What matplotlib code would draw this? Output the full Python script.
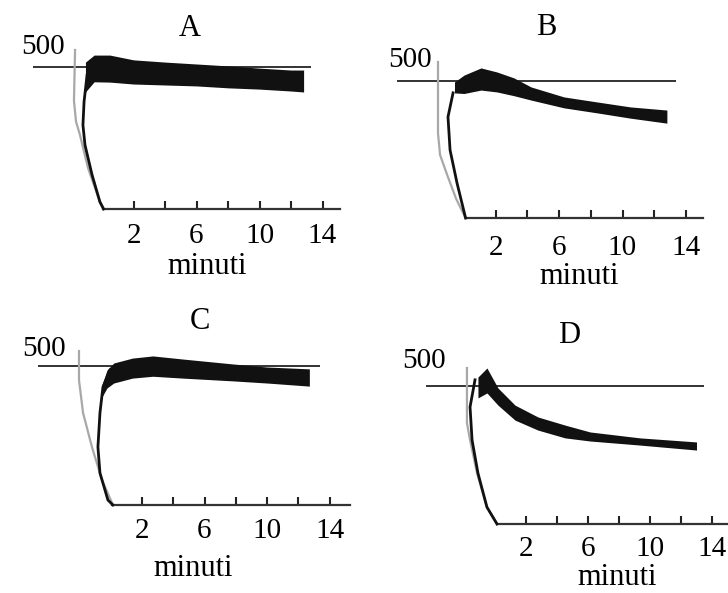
import matplotlib.pyplot as plt

plt.rcParams['font.family'] = ['Liberation Serif', 'DejaVu Serif']

# values: time in minutes, level in the figure's units
x_ticks = [2, 4, 6, 8, 10, 12, 14]
x_labels = ['2', '', '6', '', '10', '', '14']

# panel A
a_base = 447
a_base_span = [-4.4, 13.3]
a_drop_t = [-1.71, -1.78, -1.65, -1.40, -0.89, -0.40, -0.13, 0.10]
a_drop_v = [500, 340, 275, 233, 129, 60, 22, 0]
a_rise_t = [-0.95, -1.14, -1.21, -1.08, -0.63, -0.13, 0.10]
a_rise_v = [421, 337, 264, 201, 107, 22, 0]
a_band_t = [-1.05, -0.5, 0.5, 2, 4, 6, 8, 10, 12, 12.8]
a_band_hi = [462, 484, 484, 469, 462, 456, 450, 443, 437, 437]
a_band_lo = [368, 400, 399, 393, 390, 387, 381, 377, 371, 368]

# panel B
b_base = 439
b_base_span = [-4.23, 13.4]
b_drop_t = [-1.64, -1.64, -1.51, -1.01, -0.50, 0.10]
b_drop_v = [500, 272, 202, 131, 62, 0]
b_rise_t = [-0.69, -1.01, -0.88, -0.44, 0.10]
b_rise_v = [401, 324, 218, 112, 0]
b_band_t = [-0.6, 0, 1.07, 2.08, 3.15, 4.23, 6.31, 8.39, 10.5, 12.8]
b_band_hi = [436, 458, 481, 468, 449, 420, 388, 372, 356, 346]
b_band_lo = [401, 399, 410, 404, 392, 378, 353, 337, 320, 304]

# panel C
c_base = 451
c_base_span = [-4.64, 13.4]
c_drop_t = [-2.02, -2.02, -1.76, -1.19, -0.55, 0.15]
c_drop_v = [500, 406, 299, 188, 81, 0]
c_rise_t = [-0.04, -0.49, -0.68, -0.81, -0.68, -0.17, 0.15]
c_rise_v = [438, 383, 299, 188, 104, 16, 0]
c_band_t = [-0.55, -0.23, 0.2, 1.4, 2.7, 4.6, 7.8, 10.0, 12.7]
c_band_hi = [390, 438, 461, 477, 484, 474, 458, 448, 442]
c_band_lo = [351, 380, 396, 412, 418, 412, 403, 396, 386]

# panel D
d_base = 442
d_base_span = [-4.45, 13.5]
d_drop_t = [-1.81, -1.81, -1.61, -1.16, -0.52, 0.13]
d_drop_v = [500, 324, 269, 163, 54, 0]
d_rise_t = [-1.29, -1.61, -1.48, -1.10, -0.52, 0.13]
d_rise_v = [462, 375, 269, 163, 54, 0]
d_band_t = [-1.10, -0.52, 0.19, 1.29, 2.77, 4.52, 6.13, 9.35, 13.0]
d_band_hi = [471, 500, 436, 381, 343, 317, 295, 276, 263]
d_band_lo = [404, 420, 381, 333, 301, 276, 266, 253, 237]

data = {
    'A': (a_base, a_base_span, a_drop_t, a_drop_v, a_rise_t, a_rise_v, a_band_t, a_band_hi, a_band_lo),
    'B': (b_base, b_base_span, b_drop_t, b_drop_v, b_rise_t, b_rise_v, b_band_t, b_band_hi, b_band_lo),
    'C': (c_base, c_base_span, c_drop_t, c_drop_v, c_rise_t, c_rise_v, c_band_t, c_band_hi, c_band_lo),
    'D': (d_base, d_base_span, d_drop_t, d_drop_v, d_rise_t, d_rise_v, d_band_t, d_band_hi, d_band_lo),
}

# layout: pixel of t=0, px per minute, pixel of level 0, px per unit,
# axis end, label pad, and text anchors (title, "500", "minuti") in data units
W, H = 728, 593
layout = {
    'A': dict(x0=102, sx=15.75, y0=209, sy=0.318, axis=(0.06, 15.1), pad=10,
              title=(5.6, 569), top=(-3.75, 509), xl=(6.67, -182)),
    'B': dict(x0=464, sx=15.85, y0=218, sy=0.312, axis=(0.13, 15.1), pad=12,
              title=(5.17, 609), top=(-3.41, 506), xl=(7.26, -188)),
    'C': dict(x0=110.6, sx=15.65, y0=505, sy=0.308, axis=(0.09, 15.3), pad=9,
              title=(5.71, 597), top=(-4.26, 506), xl=(5.27, -205)),
    'D': dict(x0=495, sx=15.5, y0=524, sy=0.312, axis=(0.13, 16.0), pad=9,
              title=(4.77, 603), top=(-4.58, 522), xl=(7.87, -172)),
}
xlim = (-6, 16)
ylim = (-260, 560)

fig = plt.figure(figsize=(W / 100, H / 100), dpi=100)

for name, (base, span, dt, dv, rt, rv, bt, bhi, blo) in data.items():
    L = layout[name]
    left = L['x0'] + xlim[0] * L['sx']
    right = L['x0'] + xlim[1] * L['sx']
    top = L['y0'] - ylim[1] * L['sy']
    bottom = L['y0'] - ylim[0] * L['sy']
    ax = fig.add_axes([left / W, 1 - bottom / H, (right - left) / W, (bottom - top) / H])
    ax.set_xlim(xlim)
    ax.set_ylim(ylim)
    ax.patch.set_alpha(0)

    ax.hlines(base, span[0], span[1], color='#333333', lw=1.4, zorder=1)
    ax.fill_between(bt, blo, bhi, color='#111111', lw=0, zorder=2)
    ax.plot(dt, dv, color='#a8a8a8', lw=1.6, zorder=3)
    ax.plot(rt, rv, color='#111111', lw=2.0, zorder=3)

    for s in ['top', 'left', 'right']:
        ax.spines[s].set_visible(False)
    ax.spines['bottom'].set_position(('data', 0))
    ax.spines['bottom'].set_bounds(*L['axis'])
    ax.spines['bottom'].set_linewidth(1.6)
    ax.spines['bottom'].set_color('#333333')
    ax.set_yticks([])
    ax.set_xticks(x_ticks, labels=x_labels)
    ax.tick_params(axis='x', direction='in', length=6, width=1.5,
                   pad=L['pad'], labelsize=21, color='#222222')

    ax.text(*L['title'], name, fontsize=22, ha='center', va='center')
    ax.text(*L['top'], '500', fontsize=21, ha='center', va='center')
    ax.text(*L['xl'], 'minuti', fontsize=22, ha='center', va='center')

fig.savefig('out.png', dpi=100)
